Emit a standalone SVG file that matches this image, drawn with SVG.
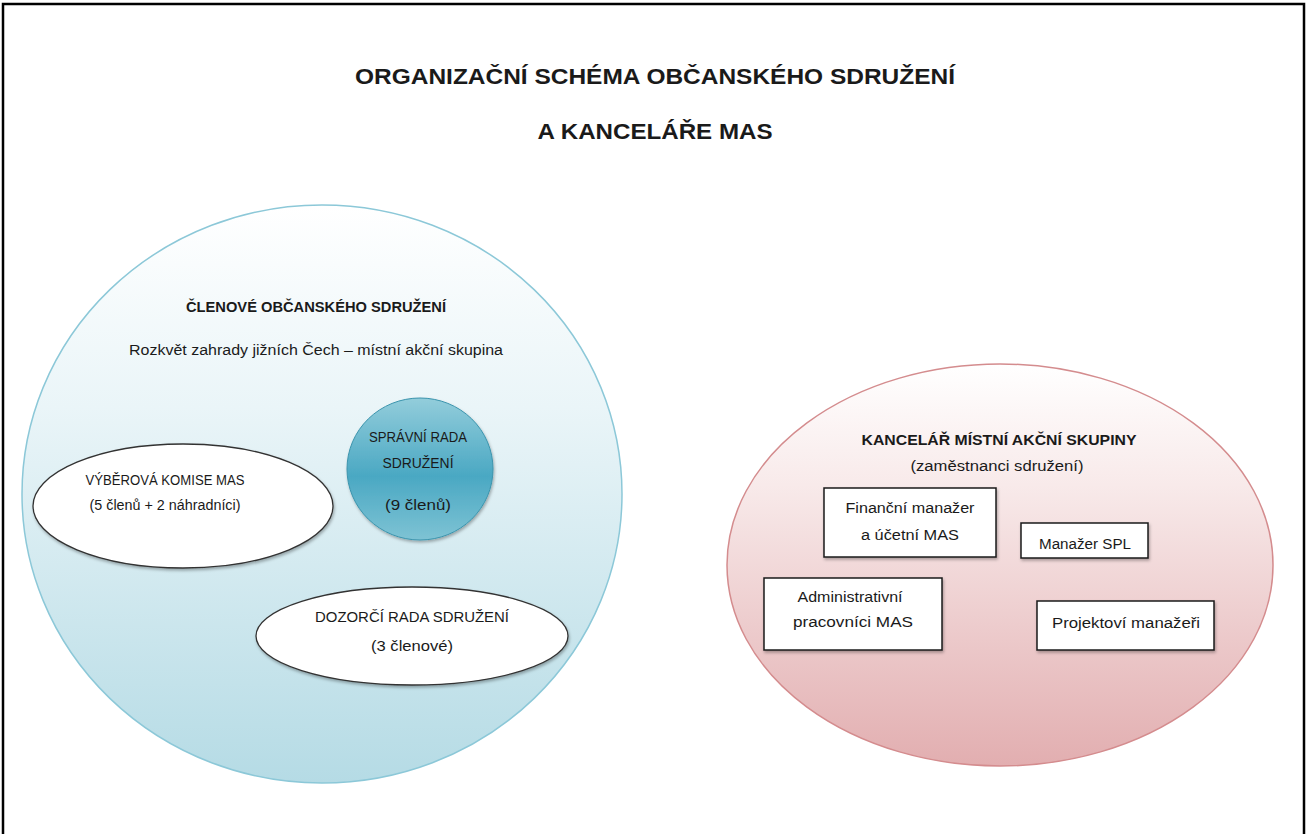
<svg xmlns="http://www.w3.org/2000/svg" width="1307" height="834" viewBox="0 0 1307 834">
<style>
text{font-family:"Liberation Sans",Arial,sans-serif;fill:#1a1a1a;text-anchor:middle}
.t{font-size:22px;font-weight:bold}
.h{font-size:14px;font-weight:bold}
.n{font-size:14px}
.box{fill:#fff;stroke:#1a1a1a;stroke-width:1.5}
.wel{fill:#fff;stroke:#333;stroke-width:1.3}
</style>
<defs>
<linearGradient id="gBlue" x1="0" y1="0" x2="0" y2="1">
<stop offset="0" stop-color="#ffffff"/>
<stop offset="0.35" stop-color="#eaf5f8"/>
<stop offset="1" stop-color="#b5dbe5"/>
</linearGradient>
<linearGradient id="gRed" x1="0" y1="0" x2="0" y2="1">
<stop offset="0" stop-color="#ffffff"/>
<stop offset="0.3" stop-color="#f8eaea"/>
<stop offset="1" stop-color="#e2aeb0"/>
</linearGradient>
<linearGradient id="gTeal" x1="0" y1="0" x2="0" y2="1">
<stop offset="0" stop-color="#93cddb"/>
<stop offset="0.55" stop-color="#4aa8c3"/>
<stop offset="1" stop-color="#7ec3d4"/>
</linearGradient>
<filter id="sh" x="-10%" y="-10%" width="120%" height="130%">
<feDropShadow dx="1" dy="2" stdDeviation="1.5" flood-color="#000" flood-opacity="0.3"/>
</filter>
</defs>
<rect x="0" y="0" width="1307" height="834" fill="#fff"/>
<rect x="3" y="4" width="1301" height="850" fill="none" stroke="#000" stroke-width="2.5"/>
<g id="title">
<text class="t" x="655" y="84" textLength="600" lengthAdjust="spacingAndGlyphs">ORGANIZAČNÍ SCHÉMA OBČANSKÉHO SDRUŽENÍ</text>
<text class="t" x="655" y="139" textLength="235" lengthAdjust="spacingAndGlyphs">A KANCELÁŘE MAS</text>
</g>
<g id="clenove">
<ellipse cx="322" cy="494" rx="300" ry="289" fill="url(#gBlue)" stroke="#8cc8d8" stroke-width="1.5"/>
<text class="h" x="316" y="312" textLength="260" lengthAdjust="spacingAndGlyphs">ČLENOVÉ OBČANSKÉHO SDRUŽENÍ</text>
<text class="n" x="316" y="355" textLength="374" lengthAdjust="spacingAndGlyphs">Rozkvět zahrady jižních Čech – místní akční skupina</text>
</g>
<g id="spravni">
<ellipse cx="420" cy="469" rx="73" ry="71" fill="url(#gTeal)" stroke="#3b94ad" stroke-width="1" filter="url(#sh)"/>
<text class="n" x="418" y="442" textLength="98" lengthAdjust="spacingAndGlyphs">SPRÁVNÍ RADA</text>
<text class="n" x="418" y="468" textLength="71" lengthAdjust="spacingAndGlyphs">SDRUŽENÍ</text>
<text class="n" x="418" y="510" textLength="66" lengthAdjust="spacingAndGlyphs">(9 členů)</text>
</g>
<g id="vyberova">
<ellipse cx="183" cy="506" rx="150" ry="62" class="wel" filter="url(#sh)"/>
<text class="n" x="165" y="485" textLength="159" lengthAdjust="spacingAndGlyphs">VÝBĚROVÁ KOMISE MAS</text>
<text class="n" x="165" y="510" textLength="151" lengthAdjust="spacingAndGlyphs">(5 členů + 2 náhradníci)</text>
</g>
<g id="dozorci">
<ellipse cx="412" cy="636" rx="156" ry="49" class="wel" filter="url(#sh)"/>
<text class="n" x="412" y="622" textLength="194" lengthAdjust="spacingAndGlyphs">DOZORČÍ RADA SDRUŽENÍ</text>
<text class="n" x="412" y="651" textLength="82" lengthAdjust="spacingAndGlyphs">(3 členové)</text>
</g>
<g id="kancelar">
<ellipse cx="1000" cy="565" rx="273" ry="201" fill="url(#gRed)" stroke="#d48c8e" stroke-width="1.5"/>
<text class="h" x="999" y="445" textLength="275" lengthAdjust="spacingAndGlyphs">KANCELÁŘ MÍSTNÍ AKČNÍ SKUPINY</text>
<text class="n" x="997" y="471" textLength="173" lengthAdjust="spacingAndGlyphs">(zaměstnanci sdružení)</text>
</g>
<g id="financni">
<rect x="824" y="488" width="172" height="69" class="box" filter="url(#sh)"/>
<text class="n" x="910" y="513" textLength="129" lengthAdjust="spacingAndGlyphs">Finanční manažer</text>
<text class="n" x="910" y="540" textLength="98" lengthAdjust="spacingAndGlyphs">a účetní MAS</text>
</g>
<g id="spl">
<rect x="1021" y="523" width="127" height="35" class="box" filter="url(#sh)"/>
<text class="n" x="1085" y="549" textLength="92" lengthAdjust="spacingAndGlyphs">Manažer SPL</text>
</g>
<g id="administrativni">
<rect x="764" y="578" width="178" height="72" class="box" filter="url(#sh)"/>
<text class="n" x="850" y="602" textLength="105" lengthAdjust="spacingAndGlyphs">Administrativní</text>
<text class="n" x="853" y="627" textLength="120" lengthAdjust="spacingAndGlyphs">pracovníci MAS</text>
</g>
<g id="projektovi">
<rect x="1037" y="601" width="177" height="49" class="box" filter="url(#sh)"/>
<text class="n" x="1126" y="628" textLength="148" lengthAdjust="spacingAndGlyphs">Projektoví manažeři</text>
</g>
<g id="connectors"></g>
</svg>
